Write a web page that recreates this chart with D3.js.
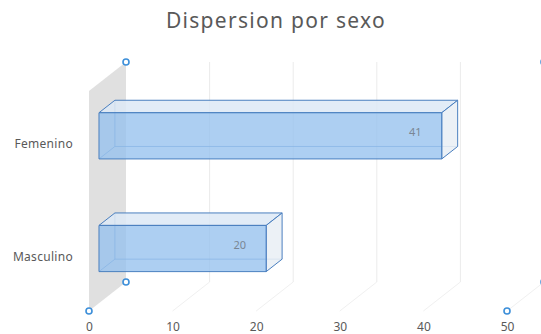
<!DOCTYPE html>
<html>
<head>
<meta charset="utf-8">
<script src="https://cdnjs.cloudflare.com/ajax/libs/d3/7.8.5/d3.min.js"></script>
<style>
  body { margin: 0; background: #fff; }
  svg { display: block; font-family: "Noto Sans", "Open Sans", sans-serif; }
</style>
</head>
<body>
<div id="chart"></div>
<script>
// data
const categories = ['Femenino', 'Masculino'];
const values = [41, 20];
const xTicks = [0, 10, 20, 30, 40, 50];
const title = 'Dispersion por sexo';

const width = 541;
const height = 334;

// 3d look: how far the back wall sits from the front plane
const depthX = 37;
const depthY = -29;
const barFront = 0.27;
const barBack = 0.70;

const svg = d3.select('#chart')
     .append('svg')
          .attr('width', width)
          .attr('height', height);

const x = d3.scaleLinear()
     .domain([0, 50])
     .range([89, 507]);

const y = d3.scaleBand()
     .domain(categories)
     .range([89, 311])
     .paddingInner(0.59)
     .paddingOuter(0.28);

const floorY = 311;
const topY = 91;

// project a point (value, screen y at front, depth 0..1)
function p(v, yy, d) {
     return [x(v) + d * depthX, yy + d * depthY];
}
function poly(pts) {
     return pts.map(q => q.join(',')).join(' ');
}

// title
svg.append('text')
     .attr('x', 276)
     .attr('y', 28)
     .attr('text-anchor', 'middle')
     .attr('fill', '#595959')
     .style('font-size', '21px')
     .style('letter-spacing', '1.3px')
     .text(title);

// back wall gridlines
const grid = svg.append('g');
xTicks.slice(1, -1).forEach(t => {
     const a = p(t, topY, 1), b = p(t, floorY, 1);
     grid.append('line')
          .attr('x1', a[0]).attr('y1', a[1])
          .attr('x2', b[0]).attr('y2', b[1])
          .attr('stroke', '#ebebeb');
});
// floor lines
xTicks.slice(1).forEach(t => {
     const a = p(t, floorY, 1), b = p(t, floorY, 0);
     grid.append('line')
          .attr('x1', a[0]).attr('y1', a[1])
          .attr('x2', b[0]).attr('y2', b[1])
          .attr('stroke', '#f0f0f0');
});

// grey side wall at x = 0
svg.append('polygon')
     .attr('points', poly([p(0, topY, 0), p(0, topY, 1), p(0, floorY, 1), p(0, floorY, 0)]))
     .attr('fill', '#e0e0e0');

// bars
const bars = svg.selectAll('g.bar')
     .data(categories.map((c, i) => ({cat: c, value: values[i]})))
     .enter()
     .append('g')
          .attr('class', 'bar');

bars.each(function(d) {
     const g = d3.select(this);
     const t = y(d.cat), b = y(d.cat) + y.bandwidth();
     const v = d.value;
     const stroke = '#4a7fbf';

     // hidden edges seen through the front
     const bl = p(0, b, barBack), tl = p(0, t, barBack), br = p(v, b, barBack);
     const fbl = p(0, b, barFront);
     g.append('polyline')
          .attr('points', poly([tl, bl, br]))
          .attr('fill', 'none')
          .attr('stroke', stroke)
          .attr('stroke-opacity', 0.7);
     g.append('line')
          .attr('x1', fbl[0]).attr('y1', fbl[1])
          .attr('x2', bl[0]).attr('y2', bl[1])
          .attr('stroke', stroke)
          .attr('stroke-opacity', 0.7);

     // top face
     g.append('polygon')
          .attr('points', poly([p(0, t, barFront), p(0, t, barBack), p(v, t, barBack), p(v, t, barFront)]))
          .attr('fill', '#dde9f6')
          .attr('fill-opacity', 0.85)
          .attr('stroke', stroke)
          .attr('stroke-linejoin', 'round');

     // end face
     g.append('polygon')
          .attr('points', poly([p(v, t, barFront), p(v, t, barBack), p(v, b, barBack), p(v, b, barFront)]))
          .attr('fill', '#e9eef4')
          .attr('fill-opacity', 0.85)
          .attr('stroke', stroke)
          .attr('stroke-linejoin', 'round');

     // front face
     g.append('polygon')
          .attr('points', poly([p(0, t, barFront), p(v, t, barFront), p(v, b, barFront), p(0, b, barFront)]))
          .attr('fill', '#96c2ee')
          .attr('fill-opacity', 0.78)
          .attr('stroke', stroke)
          .attr('stroke-linejoin', 'round');

     // value label
     const lp = p(v, (t + b) / 2, 0.4);
     g.append('text')
          .attr('x', lp[0] - 25)
          .attr('y', lp[1])
          .attr('dy', '0.35em')
          .attr('text-anchor', 'end')
          .attr('fill', '#7a8694')
          .style('font-size', '11px')
          .text(v);
});

// category labels
svg.append('g')
     .selectAll('text')
     .data(categories)
     .enter()
     .append('text')
          .attr('x', x(0) - 16)
          .attr('y', c => y(c) + y.bandwidth() / 2)
          .attr('dy', '0.35em')
          .attr('text-anchor', 'end')
          .attr('fill', '#595959')
          .style('font-size', '12px')
          .style('letter-spacing', '0.3px')
          .text(c => c);

// value axis
const axis = svg.append('g')
     .attr('transform', `translate(0, ${floorY})`)
     .call(d3.axisBottom(x).tickValues(xTicks).tickSize(0).tickPadding(11));
axis.select('.domain').remove();
axis.selectAll('text')
     .attr('fill', '#595959')
     .style('font-size', '12px')
     .style('font-family', '"Noto Sans", sans-serif');

// selection handles at the plot corners
const handles = [p(0, floorY, 0), p(0, floorY, 1), p(0, topY, 1), p(50, floorY, 0), p(50, floorY, 1), p(50, topY, 1)];
svg.append('g')
     .selectAll('circle')
     .data(handles)
     .enter()
     .append('circle')
          .attr('cx', q => q[0])
          .attr('cy', q => q[1])
          .attr('r', 3)
          .attr('fill', '#fff')
          .attr('stroke', '#3d8fd9')
          .attr('stroke-width', 1.6);
</script>
</body>
</html>
